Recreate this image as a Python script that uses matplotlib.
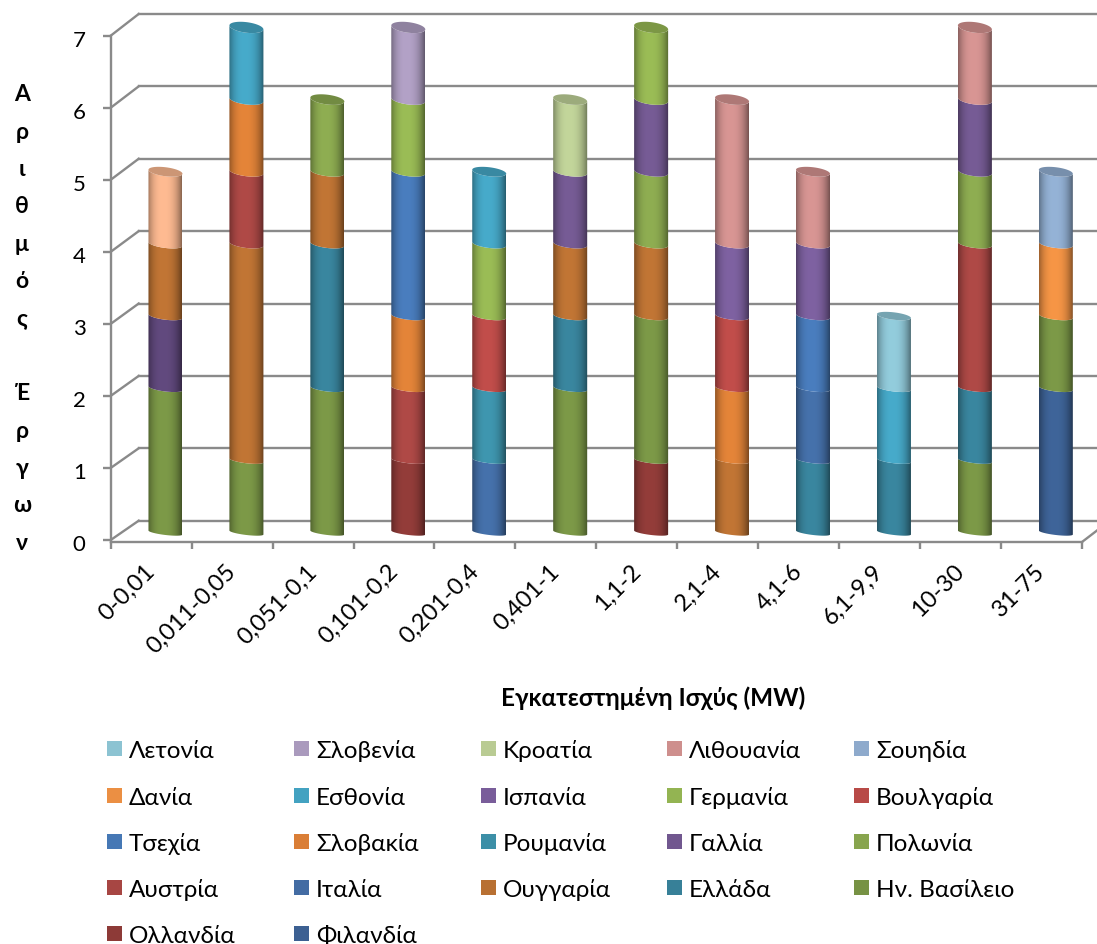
import numpy as np
import matplotlib
matplotlib.use("Agg")
import matplotlib.pyplot as plt
from matplotlib.patches import Rectangle
from matplotlib.path import Path
from matplotlib.transforms import ScaledTranslation

W, H = 1097, 945
plt.rcParams['font.family'] = ['Lato', 'Open Sans', 'DejaVu Sans']

categories = ['0-0,01', '0,011-0,05', '0,051-0,1', '0,101-0,2', '0,201-0,4', '0,401-1',
              '1,1-2', '2,1-4', '4,1-6', '6,1-9,9', '10-30', '31-75']

# one list per series, bottom of the stack first
finland     = [0, 0, 0, 0, 0, 0, 0, 0, 0, 0, 0, 2]
netherlands = [0, 0, 0, 1, 0, 0, 1, 0, 0, 0, 0, 0]
uk          = [2, 1, 2, 0, 0, 2, 2, 0, 0, 0, 1, 1]
dark_purple = [1, 0, 0, 0, 0, 0, 0, 0, 0, 0, 0, 0]  # not named in the reference legend
greece      = [0, 0, 2, 0, 0, 1, 0, 0, 1, 1, 1, 0]
hungary     = [1, 3, 1, 0, 0, 1, 1, 1, 0, 0, 0, 0]
italy       = [0, 0, 0, 0, 1, 0, 0, 0, 1, 0, 0, 0]
austria     = [0, 1, 0, 1, 0, 0, 0, 0, 0, 0, 2, 0]
poland      = [0, 0, 1, 0, 0, 0, 1, 0, 0, 0, 1, 0]
france      = [0, 0, 0, 0, 0, 1, 1, 0, 0, 0, 1, 0]
romania     = [0, 0, 0, 0, 1, 0, 0, 0, 0, 0, 0, 0]
slovakia    = [0, 1, 0, 1, 0, 0, 0, 1, 0, 0, 0, 0]
czechia     = [0, 0, 0, 2, 0, 0, 0, 0, 1, 0, 0, 0]
bulgaria    = [0, 0, 0, 0, 1, 0, 0, 1, 0, 0, 0, 0]
germany     = [0, 0, 0, 1, 1, 0, 1, 0, 0, 0, 0, 0]
spain       = [0, 0, 0, 0, 0, 0, 0, 1, 1, 0, 0, 0]
estonia     = [0, 1, 0, 0, 1, 0, 0, 0, 0, 1, 0, 0]
denmark     = [0, 0, 0, 0, 0, 0, 0, 0, 0, 0, 0, 1]
sweden      = [0, 0, 0, 0, 0, 0, 0, 0, 0, 0, 0, 1]
lithuania   = [0, 0, 0, 0, 0, 0, 0, 2, 1, 0, 1, 0]
croatia     = [0, 0, 0, 0, 0, 1, 0, 0, 0, 0, 0, 0]
slovenia    = [0, 0, 0, 1, 0, 0, 0, 0, 0, 0, 0, 0]
latvia      = [0, 0, 0, 0, 0, 0, 0, 0, 0, 1, 0, 0]
peach       = [1, 0, 0, 0, 0, 0, 0, 0, 0, 0, 0, 0]  # not named in the reference legend

series_values = [finland, netherlands, uk, dark_purple, greece, hungary, italy, austria,
                 poland, france, romania, slovakia, czechia, bulgaria, germany, spain,
                 estonia, denmark, sweden, lithuania, croatia, slovenia, latvia, peach]
series_colors = ['#3F659A', '#943D3A', '#7D9A48', '#624A7F', '#3A87A0', '#C27635', '#4672AC',
                 '#B04A47', '#8FAE52', '#775C96', '#3F97B0', '#E58539', '#4A7EBF', '#C24E4B',
                 '#9BBD56', '#7F62A2', '#47ABCB', '#F79646', '#95B3D7', '#D99694', '#C3D69B',
                 '#B3A2C7', '#93CDDD', '#FFBB92']

# legend: read row by row in the reference
legend_rows = [
    [('Λετονία', latvia), ('Σλοβενία', slovenia), ('Κροατία', croatia), ('Λιθουανία', lithuania), ('Σουηδία', sweden)],
    [('Δανία', denmark), ('Εσθονία', estonia), ('Ισπανία', spain), ('Γερμανία', germany), ('Βουλγαρία', bulgaria)],
    [('Τσεχία', czechia), ('Σλοβακία', slovakia), ('Ρουμανία', romania), ('Γαλλία', france), ('Πολωνία', poland)],
    [('Αυστρία', austria), ('Ιταλία', italy), ('Ουγγαρία', hungary), ('Ελλάδα', greece), ('Ην. Βασίλειο', uk)],
    [('Ολλανδία', netherlands), ('Φιλανδία', finland)],
]
yticks = list(range(8))
y_title = 'Αριθμός Έργων'
x_title = 'Εγκατεστημένη Ισχύς (MW)'

# ---- layout (pixels of the reference) ----
left_px, right_px, top_px, bottom_px = 110.7, 1082.0, 36.7, 543.0
line_c = '#8A8A8A'
line_w = 1.7

fig = plt.figure(figsize=(W / 100, H / 100), dpi=100, facecolor='white')
ax = fig.add_axes([left_px / W, 1 - bottom_px / H, (right_px - left_px) / W, (bottom_px - top_px) / H])

px_x = (right_px - left_px) / 12
px_y = 72.04
ylo = -2.0 / px_y
xlim = (-0.5, 11.5)
ylim = (ylo, 7.0)

depth_x = 28 / px_x


def depth_y(v):
    return 0.268 + 0.0048 * v


# depth: back wall gridlines and the wall-to-front diagonals
right_end = (W - left_px) / px_x - 0.5
for v in yticks:
    ax.plot([-0.5 + depth_x, right_end], [v + depth_y(v)] * 2, color=line_c, lw=line_w, clip_on=False, zorder=1)
    ax.plot([-0.5, -0.5 + depth_x], [v, v + depth_y(v)], color=line_c, lw=line_w, clip_on=False, zorder=1)
ax.plot([11.5, 11.5 + depth_x], [ylo, ylo + depth_y(0) + 0.03], color=line_c, lw=line_w, clip_on=False, zorder=1)

# cylinders
bar_shift = 14.3 / px_x      # bars stand mid-depth
bar_half = 17.0 / px_x
lift = 7.5 / px_y
stretch = 72.15 / px_y
tilt = 2.0 / px_y
N = 60
t = np.linspace(0, np.pi, N)
u = np.linspace(0, 1, 96)
shade = np.where(u < 0.45, 1 - 0.36 * np.abs((0.45 - u) / 0.45) ** 2.6, 1 - 0.46 * np.abs((u - 0.45) / 0.55) ** 2.6)


def front_arc(xc, v):
    """Front half of the tilted ellipse at stack height v, left to right."""
    b = (2.5 + 0.4 * v) / px_y
    y0 = lift + stretch * v
    return xc - bar_half * np.cos(t), y0 - b * np.sin(t) + tilt * np.cos(t)


def back_arc(xc, v):
    b = (2.5 + 0.4 * v) / px_y
    y0 = lift + stretch * v
    return xc + bar_half * np.cos(t), y0 + b * np.sin(t) - tilt * np.cos(t)


tops = np.zeros(len(categories))
top_color = [None] * len(categories)
for values, color in zip(series_values, series_colors):
    rgb = np.array(matplotlib.colors.to_rgb(color))
    strip = (shade[None, :, None] * rgb[None, None, :]).clip(0, 1)
    for i, val in enumerate(values):
        if val == 0:
            continue
        v0, v1 = tops[i], tops[i] + val
        xc = i + bar_shift
        xb, yb = front_arc(xc, v0)
        xt, yt = front_arc(xc, v1)
        verts = np.vstack([np.column_stack([xb, yb]), np.column_stack([xt[::-1], yt[::-1]]), [[xb[0], yb[0]]]])
        codes = [Path.MOVETO] + [Path.LINETO] * (len(verts) - 2) + [Path.CLOSEPOLY]
        extent = (xc - bar_half, xc + bar_half, lift + stretch * v0 - 0.3, lift + stretch * v1 + 0.3)
        im = ax.imshow(strip, extent=extent, aspect='auto', interpolation='bilinear', zorder=3)
        im.set_clip_path(Path(verts, codes), ax.transData)
        im.set_clip_box(fig.bbox)
        tops[i] = v1
        top_color[i] = rgb

for i, (top, rgb) in enumerate(zip(tops, top_color)):
    xc = i + bar_shift
    xf, yf = front_arc(xc, top)
    xk, yk = back_arc(xc, top)
    ax.fill(np.r_[xf, xk], np.r_[yf, yk], color=tuple(rgb * 0.8), lw=0, zorder=4, clip_on=False)

# axes
ax.set_xlim(*xlim)
ax.set_ylim(*ylim)
for side in ('top', 'right'):
    ax.spines[side].set_visible(False)
for side in ('left', 'bottom'):
    ax.spines[side].set_color(line_c)
    ax.spines[side].set_linewidth(line_w)
ax.patch.set_visible(False)

ax.set_yticks(yticks)
ax.tick_params(axis='y', length=6, width=line_w, color=line_c, labelsize=16, pad=12)
ax.set_xticks(range(len(categories)))
ax.set_xticklabels(categories, rotation=45, ha='right', rotation_mode='anchor', fontsize=17)
ax.set_xticks(np.arange(-0.5, 12, 1), minor=True)
ax.tick_params(axis='x', which='major', length=0, pad=13)
ax.tick_params(axis='x', which='minor', length=5, width=line_w, color=line_c)
for lab in ax.get_xticklabels():
    lab.set_transform(lab.get_transform() + ScaledTranslation(-7 / 100, 0, fig.dpi_scale_trans))
for lab in ax.get_yticklabels():
    lab.set_transform(lab.get_transform() + ScaledTranslation(0, -2 / 100, fig.dpi_scale_trans))

ax.set_xlabel(x_title, fontsize=17.5, fontweight='bold')
ax.xaxis.set_label_coords((653 - left_px) / (right_px - left_px), -(698 - bottom_px) / (bottom_px - top_px), ax.transAxes)
ax.xaxis.label.set_va('center')

ax.set_ylabel('\n'.join(y_title), rotation=0, fontsize=16.5, fontweight='bold', linespacing=1.963, ha='center', va='center')
ax.yaxis.set_label_coords((22 - left_px) / (right_px - left_px), (bottom_px - 319) / (bottom_px - top_px), ax.transAxes)

# legend on the reference's regular grid (a Legend box would let row heights vary per glyph)
col_x = [107, 294, 481, 667, 854]
row_y = [749.5, 796, 842, 888, 934]
swatch = 15
color_of = {id(v): c for v, c in zip(series_values, series_colors)}
for row, yc in zip(legend_rows, row_y):
    for (name, vals), x in zip(row, col_x):
        fc = tuple(np.array(matplotlib.colors.to_rgb(color_of[id(vals)])) * 0.95)
        fig.add_artist(Rectangle((x / W, 1 - (yc + swatch / 2) / H), swatch / W, swatch / H,
                                 transform=fig.transFigure, facecolor=fc, edgecolor='none'))
        fig.text((x + swatch + 7) / W, 1 - (yc + 8.8) / H, name, fontsize=17.5, ha='left', va='baseline')

fig.savefig('out.png', dpi=100, facecolor='white')
